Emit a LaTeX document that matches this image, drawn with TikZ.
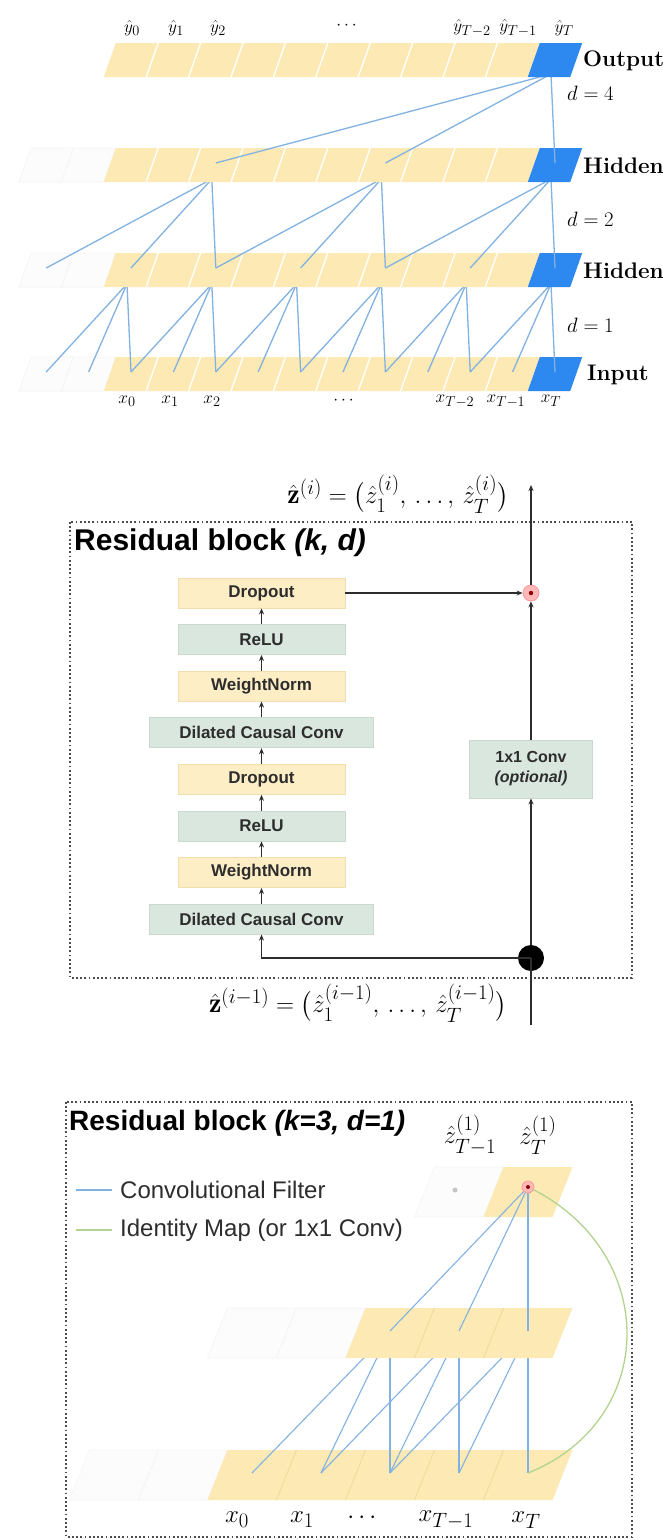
\documentclass[tikz,border=0pt]{standalone}
\usepackage{fontspec}
\setsansfont{Liberation Sans}
\usepackage{amsmath}
\usetikzlibrary{arrows.meta}
\definecolor{cellyellow}{RGB}{252,233,180}
\definecolor{cellblue}{RGB}{45,137,239}
\definecolor{linkblue}{RGB}{130,178,226}
\definecolor{boxyellow}{RGB}{253,238,198}
\definecolor{boxyellowedge}{RGB}{240,222,172}
\definecolor{boxgreen}{RGB}{218,231,222}
\definecolor{boxgreenedge}{RGB}{200,218,206}
\definecolor{idgreen}{RGB}{178,212,142}
\definecolor{ink}{RGB}{45,45,45}
\definecolor{sepc}{RGB}{240,216,150}
\tikzset{
 sep/.style={draw=white, line width=1.3pt},
 sepc/.style={draw=sepc, line width=0.8pt},
 ghostcell/.style={fill=gray!2, draw=gray!9, line width=0.6pt},
 link/.style={draw=linkblue, line width=1.3pt},
 linkc/.style={draw=linkblue, line width=1.1pt},
 idline/.style={draw=idgreen, line width=1.3pt},
 lbl/.style={font=\fontsize{19}{21}\selectfont, inner sep=0pt},
 lblc/.style={font=\fontsize{28}{30}\selectfont, inner sep=0pt},
 side/.style={anchor=west, font=\bfseries\fontsize{22.5}{26}\selectfont, inner sep=0pt},
 dl/.style={anchor=west, font=\fontsize{22}{24}\selectfont, inner sep=0pt},
 boxbase/.style={rectangle, minimum height=30pt, inner sep=2pt, font=\sffamily\bfseries\fontsize{17}{20}\selectfont, text=ink},
 ybox/.style={boxbase, fill=boxyellow, draw=boxyellowedge, line width=0.8pt, minimum width=167pt},
 gbox/.style={boxbase, fill=boxgreen, draw=boxgreenedge, line width=0.8pt, minimum width=167pt},
 widebox/.style={minimum width=224pt},
 flow/.style={draw=ink, line width=1.4pt, -{Stealth[length=6pt,width=5pt]}},
 plain/.style={draw=ink, line width=1.4pt},
 frame/.style={draw=ink!85, line width=1.8pt, dash pattern=on 1.8pt off 2.4pt},
 title/.style={anchor=west, font=\sffamily\bfseries\fontsize{28}{32}\selectfont, inner sep=0pt, text=black},
 legend/.style={anchor=west, font=\sffamily\fontsize{24}{28}\selectfont, inner sep=0pt, text=ink},
 mathlbl/.style={font=\fontsize{28}{30}\selectfont, inner sep=0pt},
 plusdot/.style={circle, fill=red!28, draw=red!40, line width=0.8pt, minimum size=16pt, inner sep=0pt},
}
% panel (a) bar: #1 top y, #2 ghost flag
\newcommand{\abar}[2]{%
  \pgfmathsetmacro\yb{#1+34}%
  \ifnum#2=1
    \foreach \k in {-2,-1}{%
      \pgfmathsetmacro\cx{131+42.4*\k}%
      \draw[ghostcell] ({\cx-27.2},\yb) -- ({\cx+15.2},\yb) -- ({\cx+27.2},#1) -- ({\cx-15.2},#1) -- cycle;
    }%
  \fi
  \fill[cellyellow] (103.8,\yb) -- (527.8,\yb) -- (539.8,#1) -- (115.8,#1) -- cycle;
  \foreach \k in {1,...,9}{%
    \pgfmathsetmacro\xx{131+42.4*\k-21.2}%
    \draw[sep] ({\xx-6},\yb) -- ({\xx+6},#1);
  }%
  \fill[cellblue] (527.8,\yb) -- (570.2,\yb) -- (582.2,#1) -- (539.8,#1) -- cycle;
}
% panel (c) bar: #1 top y, #2 first k, #3 last k, #4 first ghost k
\newcommand{\cbar}[4]{%
  \pgfmathsetmacro\yb{#1+50}%
  \foreach \k in {#4,...,\numexpr#2-1\relax}{%
    \pgfmathsetmacro\cx{252+69*\k}%
    \draw[ghostcell] ({\cx-44.5},\yb) -- ({\cx+24.5},\yb) -- ({\cx+44.5},#1) -- ({\cx-24.5},#1) -- cycle;
  }%
  \pgfmathsetmacro\xl{252+69*#2}%
  \pgfmathsetmacro\xr{252+69*#3}%
  \fill[cellyellow] ({\xl-44.5},\yb) -- ({\xr+24.5},\yb) -- ({\xr+44.5},#1) -- ({\xl-24.5},#1) -- cycle;
  \ifnum#3>#2
  \foreach \k in {\numexpr#2+1\relax,...,#3}{%
    \pgfmathsetmacro\xx{252+69*\k-34.5}%
    \draw[sepc] ({\xx-10},\yb) -- ({\xx+10},#1);
  }%
  \fi
}
\begin{document}
\begin{tikzpicture}[x=1pt,y=-1pt]
\useasboundingbox (0,0) rectangle (663,1540);
\fill[white] (0,0) rectangle (663,1540);

% ================= panel (a) =================
\foreach \L/\yt in {0/357,1/253,2/148,3/43}{
  \foreach \i in {0,...,12}{
    \pgfmathsetmacro\cx{131+42.4*(\i-2)}
    \coordinate (a\L-\i-in) at (\cx,\yt+15);
    \coordinate (a\L-\i-out) at (\cx-4,\yt+31);
  }
}
\abar{357}{1}
\foreach \j in {0,2,4,6,8,10}{
  \pgfmathtruncatemacro\i{\j+2}
  \pgfmathtruncatemacro\ia{\j+1}
  \pgfmathtruncatemacro\ib{\j}
  \draw[link] (a1-\i-out) -- (a0-\i-in);
  \draw[link] (a1-\i-out) -- (a0-\ia-in);
  \draw[link] (a1-\i-out) -- (a0-\ib-in);
}
\abar{253}{1}
\foreach \j in {2,6,10}{
  \pgfmathtruncatemacro\i{\j+2}
  \pgfmathtruncatemacro\ia{\j}
  \pgfmathtruncatemacro\ib{\j-2}
  \draw[link] (a2-\i-out) -- (a1-\i-in);
  \draw[link] (a2-\i-out) -- (a1-\ia-in);
  \draw[link] (a2-\i-out) -- (a1-\ib-in);
}
\abar{148}{1}
\draw[link] (a3-12-out) -- (a2-12-in);
\draw[link] (a3-12-out) -- (a2-8-in);
\draw[link] (a3-12-out) -- (a2-4-in);
\abar{43}{0}

\node[lbl] (y0) at (132,28) {$\hat{y}_0$};
\node[lbl] (y1) at (176,28) {$\hat{y}_1$};
\node[lbl] (y2) at (218,28) {$\hat{y}_2$};
\node[lbl] (yd) at (348,26) {$\cdots$};
\node[lbl] (yT2) at (472,28) {$\hat{y}_{T-2}$};
\node[lbl] (yT1) at (518,28) {$\hat{y}_{T-1}$};
\node[lbl] (yT) at (564,28) {$\hat{y}_{T}$};

\node[lbl] (x0) at (127,401) {$x_0$};
\node[lbl] (x1) at (170,401) {$x_1$};
\node[lbl] (x2) at (212,401) {$x_2$};
\node[lbl] (xd) at (345,401) {$\cdots$};
\node[lbl] (xT2) at (455,401) {$x_{T-2}$};
\node[lbl] (xT1) at (506,401) {$x_{T-1}$};
\node[lbl] (xT) at (551,401) {$x_{T}$};

\node[side] (lo) at (583,61) {Output};
\node[side] (lh1) at (583,166) {Hidden};
\node[side] (lh2) at (583,271) {Hidden};
\node[side] (li) at (587,375) {Input};
\node[dl] (d4) at (567,93) {$d = 4$};
\node[dl] (d2) at (567,219) {$d = 2$};
\node[dl] (d1) at (567,325) {$d = 1$};

% ================= panel (b) =================
\draw[frame] (70,522) rectangle (632,978);
\node[title, font=\sffamily\bfseries\fontsize{30}{34}\selectfont] (tb) at (74,543) {Residual block \textit{(k, d)}};
\node[ybox] (dp1) at (261.5,593) {Dropout};
\node[gbox] (rl1) at (261.5,639.6) {ReLU};
\node[ybox] (wn1) at (261.5,686.2) {WeightNorm};
\node[gbox,widebox] (dc1) at (261.5,732.8) {Dilated Causal Conv};
\node[ybox] (dp2) at (261.5,779.4) {Dropout};
\node[gbox] (rl2) at (261.5,826) {ReLU};
\node[ybox] (wn2) at (261.5,872.6) {WeightNorm};
\node[gbox,widebox] (dc2) at (261.5,919.2) {Dilated Causal Conv};
\node[gbox, minimum width=123pt, minimum height=58pt, align=center, font=\sffamily\bfseries\fontsize{16}{20}\selectfont] (cv) at (531,769) {1x1 Conv\\\textit{(optional)}};
\node[circle, fill=black, minimum size=26pt, inner sep=0pt] (jn) at (531,958) {};
\node[plusdot] (pl) at (531,593) {};
\fill[red!55!black] (pl) circle (2.2pt);
\coordinate (zout) at (531,485);
\coordinate (zin) at (531,1025);

\draw[flow] (dc2.north) -- (wn2.south);
\draw[flow] (wn2.north) -- (rl2.south);
\draw[flow] (rl2.north) -- (dp2.south);
\draw[flow] (dp2.north) -- (dc1.south);
\draw[flow] (dc1.north) -- (wn1.south);
\draw[flow] (wn1.north) -- (rl1.south);
\draw[flow] (rl1.north) -- (dp1.south);
\draw[plain] (zin) -- (jn.center);
\draw[flow] (jn.center) -| (dc2.south);
\draw[flow] (jn) -- (cv.south);
\draw[flow] (cv.north) -- (pl.south);
\draw[flow] (pl.north) -- (zout);
\draw[flow] (dp1.east) -- (pl.west);

\node[mathlbl] (ztop) at (398,494) {$\hat{\mathbf{z}}^{(i)} = \bigl(\hat{z}^{(i)}_1,\,\ldots,\,\hat{z}^{(i)}_T\bigr)$};
\node[mathlbl] (zbot) at (358,1003) {$\hat{\mathbf{z}}^{(i-1)} = \bigl(\hat{z}^{(i-1)}_1,\,\ldots,\,\hat{z}^{(i-1)}_T\bigr)$};

% ================= panel (c) =================
\draw[frame] (66,1102) rectangle (632,1537);
\node[title] (tc) at (69,1123) {Residual block \textit{(k=3, d=1)}};
\node[lblc] (zT1) at (470,1135) {$\hat{z}^{(1)}_{T-1}$};
\node[lblc] (zT) at (538,1135) {$\hat{z}^{(1)}_{T}$};
\coordinate (lg1a) at (76,1190);
\coordinate (lg1b) at (112,1190);
\coordinate (lg2a) at (76,1230);
\coordinate (lg2b) at (112,1230);
\draw[linkc] (lg1a) -- (lg1b);
\draw[idline] (lg2a) -- (lg2b);
\node[legend] (lgt1) at (120,1190) {Convolutional Filter};
\node[legend] (lgt2) at (120,1230) {Identity Map (or 1x1 Conv)};

\foreach \k in {0,...,4}{
  \pgfmathsetmacro\cx{252+69*\k}
  \coordinate (cb\k) at (\cx,1473);
  \coordinate (cm\k) at (\cx,1331);
}
\coordinate (ct) at (528,1187);
\coordinate (cg) at (455,1190);

\cbar{1450}{0}{4}{-2}
\foreach \m in {2,3,4}{
  \pgfmathtruncatemacro\ma{\m-1}
  \pgfmathtruncatemacro\mb{\m-2}
  \draw[linkc] (cm\m) -- (cb\m);
  \draw[linkc] (cm\m) -- (cb\ma);
  \draw[linkc] (cm\m) -- (cb\mb);
}
\cbar{1308}{2}{4}{0}
\cbar{1167}{4}{4}{3}
\draw[linkc] (ct) -- (cm2);
\draw[linkc] (ct) -- (cm3);
\draw[linkc] (ct) -- (cm4);
\draw[idline] (ct) .. controls (660,1250) and (660,1420) .. (cb4);
\node[plusdot, minimum size=12pt] (ctp) at (ct) {};
\fill[red!55!black] (ctp) circle (2pt);
\fill[gray!45] (cg) circle (2.5pt);

\node[lblc] (cx0) at (237,1520) {$x_0$};
\node[lblc] (cx1) at (302,1520) {$x_1$};
\node[lblc] (cxd) at (364,1518) {$\cdots$};
\node[lblc] (cxT1) at (446,1520) {$x_{T-1}$};
\node[lblc] (cxT) at (526,1520) {$x_{T}$};
\end{tikzpicture}
\end{document}
